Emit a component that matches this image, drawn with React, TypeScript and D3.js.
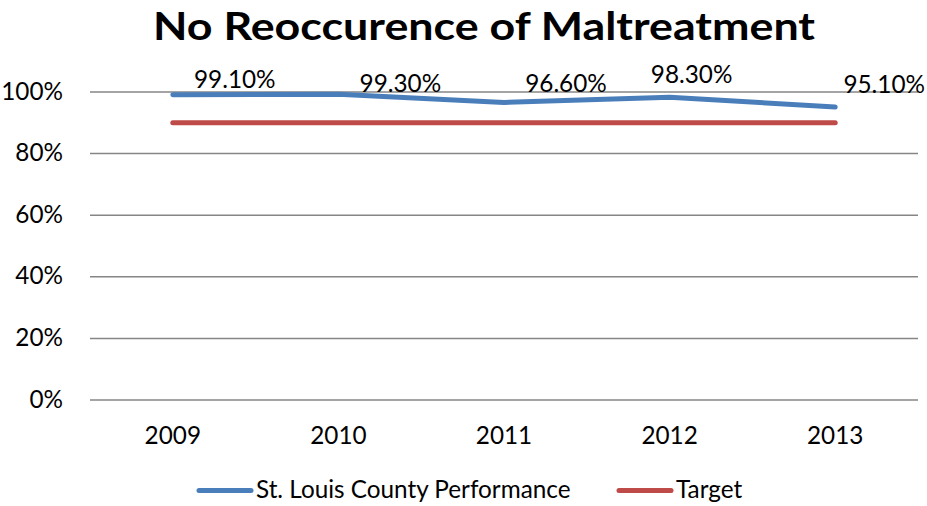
import React from "react";
import * as d3 from "d3";

const categories = ["2009", "2010", "2011", "2012", "2013"];
const performance = [0.991, 0.993, 0.966, 0.983, 0.951];
const target = [0.9, 0.9, 0.9, 0.9, 0.9];
const labelText = ["99.10%", "99.30%", "96.60%", "98.30%", "95.10%"];
const yTicks = [0, 0.2, 0.4, 0.6, 0.8, 1.0];
const seriesNames = ["St. Louis County Performance", "Target"];

// label offsets relative to the data point (dx = center, dy = baseline)
const labelDx = [62, 62, 62, 22, 49];
const labelDy = [-7, -2, -10, -14, -14];

const W = 927;
const H = 506;
const FONT = "Lato, 'Open Sans', sans-serif";
const BLUE = "#4a7ebb";
const RED = "#be4b48";
const FS = 24.3;

function T(props: {
  x: number;
  y: number;
  anchor?: "start" | "middle" | "end";
  size?: number;
  bold?: boolean;
  length?: number;
  children: React.ReactNode;
}) {
  const { x, y, anchor = "start", size = FS, bold, length } = props;
  return (
    <text
      x={x}
      y={y}
      textAnchor={anchor}
      fontSize={size}
      fontWeight={bold ? "bold" : "normal"}
      fill="#000"
      {...(length ? { textLength: length, lengthAdjust: "spacingAndGlyphs" } : {})}
    >
      {props.children}
    </text>
  );
}

export default function App() {
  const x = d3.scaleBand<string>().domain(categories).range([90, 918]);
  const y = d3.scaleLinear().domain([0, 1]).range([400, 92]);
  const cx = (c: string) => (x(c) as number) + x.bandwidth() / 2;

  const line = d3
    .line<number>()
    .x((_, i) => cx(categories[i]))
    .y((d) => y(d));

  return (
    <svg
      width={W}
      height={H}
      style={{ position: "absolute", left: 0, top: 0, background: "#fff" }}
      fontFamily={FONT}
    >
      <T x={484} y={40} anchor="middle" size={39} bold length={662}>
        No Reoccurence of Maltreatment
      </T>

      {yTicks.map((t) => (
        <g key={t}>
          <line
            x1={90}
            x2={918}
            y1={y(t)}
            y2={y(t)}
            stroke="#868686"
            strokeWidth={1.5}
          />
          <T x={63} y={y(t) + 7.5} anchor="end">
            {d3.format(".0%")(t)}
          </T>
        </g>
      ))}

      {categories.map((c) => (
        <T key={c} x={cx(c)} y={444} anchor="middle">
          {c}
        </T>
      ))}

      <path
        d={line(target) || ""}
        fill="none"
        stroke={RED}
        strokeWidth={5}
        strokeLinecap="round"
        strokeLinejoin="round"
      />
      <path
        d={line(performance) || ""}
        fill="none"
        stroke={BLUE}
        strokeWidth={5}
        strokeLinecap="round"
        strokeLinejoin="round"
      />

      {performance.map((v, i) => (
        <T key={i} x={cx(categories[i]) + labelDx[i]} y={y(v) + labelDy[i]} anchor="middle">
          {labelText[i]}
        </T>
      ))}

      <g>
        <line x1={199} x2={251} y1={490.5} y2={490.5} stroke={BLUE} strokeWidth={5} strokeLinecap="round" />
        <T x={256} y={498}>
          {seriesNames[0]}
        </T>
        <line x1={619} x2={671} y1={490.5} y2={490.5} stroke={RED} strokeWidth={5} strokeLinecap="round" />
        <T x={676} y={498}>
          {seriesNames[1]}
        </T>
      </g>
    </svg>
  );
}
